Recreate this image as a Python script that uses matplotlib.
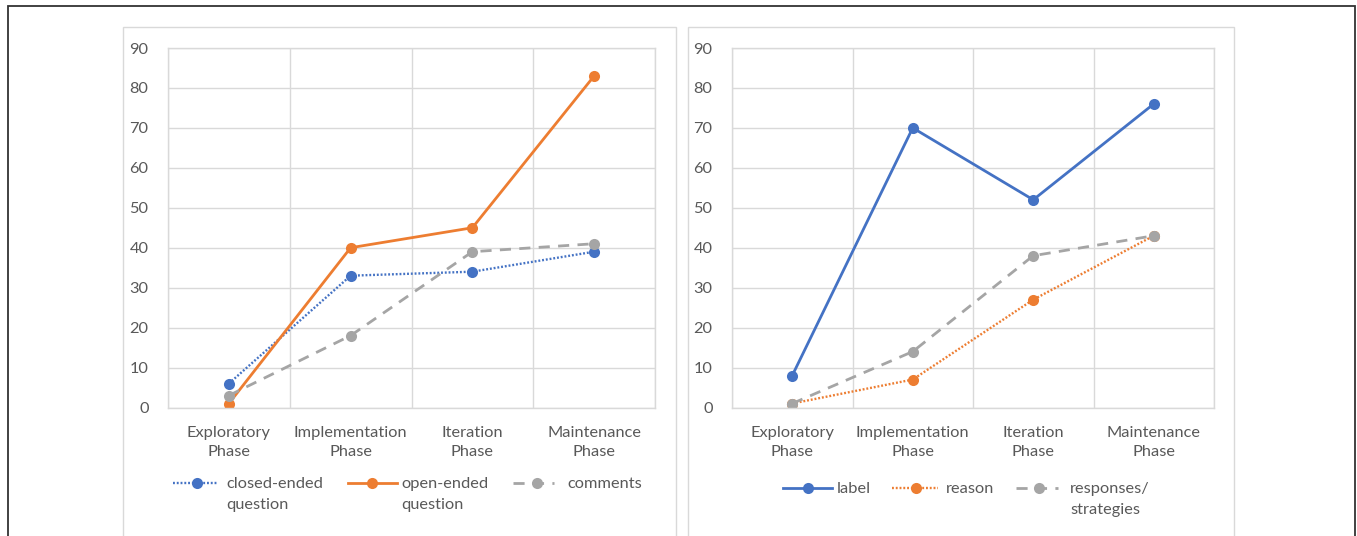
import matplotlib
matplotlib.use("Agg")

import numpy as np
import matplotlib.pyplot as plt
from matplotlib.lines import Line2D
from matplotlib.patches import Rectangle

# phase counts per category
phases = ["Exploratory\nPhase", "Implementation\nPhase", "Iteration\nPhase", "Maintenance\nPhase"]

closed_ended = [6, 33, 34, 39]
open_ended = [1, 40, 45, 83]
comments = [3, 18, 39, 41]

label_counts = [8, 70, 52, 76]
reason_counts = [1, 7, 27, 43]
responses_counts = [1, 14, 38, 43]

BLUE = "#4472C4"
ORANGE = "#ED7D31"
GRAY = "#A5A5A5"
TEXT = "#595959"
GRID = "#D9D9D9"
FS = 11.8

plt.rcParams["font.family"] = ["Lato", "DejaVu Sans"]

W, H = 1357, 536
fig = plt.figure(figsize=(W / 100, H / 100), dpi=100)


def px(x, y):
    # pixel position (from top-left) -> figure fraction
    return x / W, 1 - y / H


def make_axes(x0, x1, ytop, ybot):
    l, t = px(x0, ytop)
    r, b = px(x1, ybot)
    return fig.add_axes([l, b, r - l, t - b])


styles = {
    "solid": dict(linestyle="-", linewidth=2.0),
    "dotted": dict(linestyle=(0, (0.8, 0.8)), linewidth=1.7),
    "dashed": dict(linestyle=(0, (4, 3)), linewidth=2.0),
}


def draw_panel(ax, series):
    x = np.arange(len(phases)) + 0.5
    for values, color, style, name in series:
        ax.plot(x, values, color=color, marker="o", markersize=8,
                markeredgewidth=0, label=name, **styles[style])
    ax.set_xlim(0, len(phases))
    ax.set_ylim(0, 90)
    ax.set_yticks(np.arange(0, 91, 10))
    ax.set_xticks(x)
    ax.set_xticklabels(phases, linespacing=1.5)
    ax.set_xticks(np.arange(len(phases) + 1), minor=True)
    ax.grid(True, axis="y", which="major", color=GRID, linewidth=1.0)
    ax.grid(True, axis="x", which="minor", color=GRID, linewidth=1.0)
    ax.tick_params(axis="both", which="both", length=0, colors=TEXT, labelsize=FS)
    ax.tick_params(axis="y", pad=14)
    ax.tick_params(axis="x", pad=13)
    for sp in ax.spines.values():
        sp.set_color(GRID)
        sp.set_linewidth(1.0)
    ax.set_axisbelow(True)


def legend_entry(x0, x1, xm, xt, y, color, style, text):
    lx0, ly = px(x0, y)
    lx1, _ = px(x1, y)
    fig.add_artist(Line2D([lx0, lx1], [ly, ly], color=color, transform=fig.transFigure,
                          **styles[style]))
    mx, _ = px(xm, y)
    fig.add_artist(Line2D([mx], [ly], color=color, marker="o", markersize=8,
                          markeredgewidth=0, transform=fig.transFigure))
    tx, ty = px(xt, y - 6)
    fig.text(tx, ty, text, color=TEXT, fontsize=FS, va="top", ha="left", linespacing=1.6)


# outer frame and panel frames
fig.add_artist(Rectangle(px(8, 560), (1355 - 8) / W, (560 - 6) / H, transform=fig.transFigure,
                         fill=False, edgecolor="#333333", linewidth=1.3))
for a, b in [(123, 676), (688, 1234)]:
    fig.add_artist(Rectangle(px(a, 560), (b - a) / W, (560 - 27) / H, transform=fig.transFigure,
                             fill=False, edgecolor=GRID, linewidth=1.0))

ax1 = make_axes(168, 655, 48, 407.5)
draw_panel(ax1, [
    (closed_ended, BLUE, "dotted", "closed-ended question"),
    (open_ended, ORANGE, "solid", "open-ended question"),
    (comments, GRAY, "dashed", "comments"),
])

ax2 = make_axes(732, 1214, 48, 407.5)
draw_panel(ax2, [
    (label_counts, BLUE, "solid", "label"),
    (reason_counts, ORANGE, "dotted", "reason"),
    (responses_counts, GRAY, "dashed", "responses/strategies"),
])

legend_entry(173, 218, 197, 226, 483, BLUE, "dotted", "closed-ended\nquestion")
legend_entry(348, 397, 372, 401, 483, ORANGE, "solid", "open-ended\nquestion")
legend_entry(513, 554, 537, 567, 483, GRAY, "dashed", "comments")

legend_entry(783, 832, 808, 837, 488, BLUE, "solid", "label")
legend_entry(892, 938, 916, 946, 488, ORANGE, "dotted", "reason")
legend_entry(1016, 1058, 1039, 1070, 488, GRAY, "dashed", "responses/\nstrategies")

fig.savefig("out.png", dpi=100)
